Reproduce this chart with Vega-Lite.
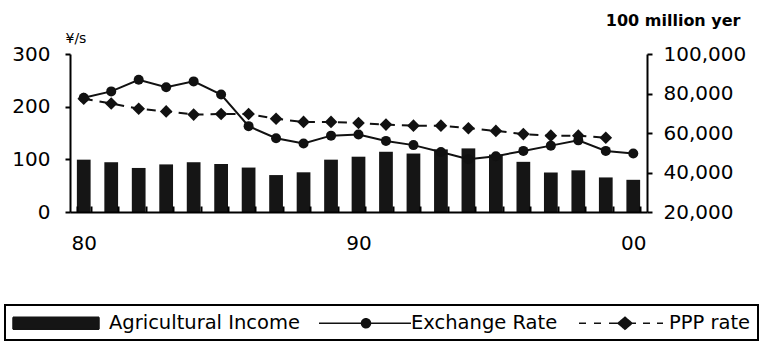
{
  "$schema": "https://vega.github.io/schema/vega-lite/v6.json",
  "width": 577,
  "height": 158,
  "autosize": "none",
  "padding": {"left": 70, "top": 54, "right": 126, "bottom": 131},
  "background": "white",
  "config": {
    "view": {"stroke": null},
    "font": "DejaVu Sans",
    "axis": {"domainColor": "black", "tickColor": "black", "labelColor": "black", "titleColor": "black", "grid": false, "labelFont": "DejaVu Sans", "titleFont": "DejaVu Sans"}
  },
  "data": {
    "values": [
      {"year": 1980, "agri": 46500, "exch": 217, "ppp": 215},
      {"year": 1981, "agri": 45200, "exch": 229, "ppp": 206},
      {"year": 1982, "agri": 42300, "exch": 251, "ppp": 196},
      {"year": 1983, "agri": 44100, "exch": 237, "ppp": 191},
      {"year": 1984, "agri": 45200, "exch": 248, "ppp": 185},
      {"year": 1985, "agri": 44300, "exch": 223, "ppp": 186},
      {"year": 1986, "agri": 42500, "exch": 163, "ppp": 186},
      {"year": 1987, "agri": 38700, "exch": 140, "ppp": 177},
      {"year": 1988, "agri": 40100, "exch": 130, "ppp": 171},
      {"year": 1989, "agri": 46500, "exch": 145, "ppp": 171},
      {"year": 1990, "agri": 48000, "exch": 147, "ppp": 169},
      {"year": 1991, "agri": 50500, "exch": 135, "ppp": 166},
      {"year": 1992, "agri": 49600, "exch": 127, "ppp": 164},
      {"year": 1993, "agri": 51700, "exch": 114, "ppp": 164},
      {"year": 1994, "agri": 52200, "exch": 100, "ppp": 159},
      {"year": 1995, "agri": 49100, "exch": 106, "ppp": 154},
      {"year": 1996, "agri": 45400, "exch": 116, "ppp": 148},
      {"year": 1997, "agri": 40000, "exch": 126, "ppp": 145},
      {"year": 1998, "agri": 41100, "exch": 136, "ppp": 145},
      {"year": 1999, "agri": 37500, "exch": 116, "ppp": 141},
      {"year": 2000, "agri": 36300, "exch": 111, "ppp": null}
    ]
  },
  "encoding": {
    "x": {
      "field": "year",
      "type": "ordinal",
      "scale": {"paddingInner": 0.5, "paddingOuter": 0.25},
      "axis": {
        "title": null,
        "labelExpr": "datum.value % 10 === 0 ? slice(toString(datum.value), 2) : ''",
        "labelAngle": 0,
        "ticks": true,
        "tickBand": "extent",
        "tickSize": -6,
        "tickWidth": 2,
        "tickColor": "black",
        "tickOpacity": 1,
        "zindex": 1,
        "domainWidth": 2,
        "labelPadding": 27,
        "labelFontSize": 20
      }
    }
  },
  "layer": [
    {
      "mark": {"type": "bar"},
      "encoding": {
        "y": {
          "field": "agri",
          "type": "quantitative",
          "scale": {"domain": [20000, 100000], "nice": false, "zero": false},
          "axis": {
            "orient": "right",
            "values": [20000, 40000, 60000, 80000, 100000],
            "format": ",d",
            "labelFontSize": 20,
            "labelPadding": 11,
            "tickSize": 5,
            "tickWidth": 2,
            "domainWidth": 2,
            "title": "100 million yer",
            "titleAngle": 0,
            "titleX": 93,
            "titleY": -29,
            "titleAlign": "right",
            "titleBaseline": "alphabetic",
            "titleFontSize": 16,
            "titleFontWeight": "bold"
          }
        },
        "y2": {"datum": 20000},
        "color": {
          "datum": "Agricultural Income",
          "scale": {"domain": ["Agricultural Income", "Exchange Rate", "PPP rate"], "range": ["#151515", "#111111", "#111111"]},
          "legend": {
            "orient": "none",
            "legendX": -65,
            "legendY": 251,
            "direction": "horizontal",
            "title": null,
            "strokeColor": "black",
            "padding": 7,
            "columnPadding": 14,
            "labelFontSize": 19.5,
            "labelFont": "DejaVu Sans",
            "labelColor": "black",
            "labelOffset": 75,
            "labelLimit": 0,
            "symbolSize": 400,
            "encoding": {
              "legend": {"strokeWidth": {"value": 2}},
              "symbols": {
                "shape": {"value": {"expr": "datum.value === 'Agricultural Income' ? 'M-1,-0.6H7.6V0.6H-1Z' : datum.value === 'Exchange Rate' ? 'M-0.6,0H8.6M3.65,0A0.45,0.45 0 1,0 4.55,0A0.45,0.45 0 1,0 3.65,0Z' : 'M-0.4,0H0.3M1.1,0H1.8M2.6,0H3.5M4.2,-0.6L4.9,0L4.2,0.6L3.5,0ZM4.9,0H5.3M6.0,0H6.7M7.4,0H8.0'"}},
                "fill": {"value": "#111111"},
                "stroke": {"value": "#111111"},
                "strokeWidth": {"value": 1.5},
                "strokeDash": {"value": [1, 0]},
                "size": {"value": 400},
                "opacity": {"value": 1}
              }
            }
          }
        }
      }
    },
    {
      "layer": [
        {
          "mark": {"type": "line", "strokeWidth": 2, "point": {"filled": true, "size": 100, "shape": "circle"}},
          "encoding": {
            "y": {
              "field": "exch",
              "type": "quantitative",
              "scale": {"domain": [0, 300], "nice": false},
              "axis": {
                "orient": "left",
                "values": [0, 100, 200, 300],
                "labelFontSize": 20,
                "labelPadding": 15,
                "tickSize": 5,
                "tickWidth": 2,
                "domainWidth": 2,
                "title": "¥/s",
                "titleAngle": 0,
                "titleX": -5,
                "titleY": -12,
                "titleAlign": "left",
                "titleBaseline": "alphabetic",
                "titleFontSize": 14,
                "titleFontWeight": "normal"
              }
            },
            "color": {"datum": "Exchange Rate"}
          }
        },
        {
          "mark": {"type": "line", "strokeWidth": 2, "strokeDash": [9, 7], "point": {"filled": true, "size": 160, "shape": "diamond"}},
          "encoding": {
            "y": {"field": "ppp", "type": "quantitative"},
            "color": {"datum": "PPP rate"}
          }
        }
      ]
    }
  ],
  "resolve": {"scale": {"y": "independent"}}
}
